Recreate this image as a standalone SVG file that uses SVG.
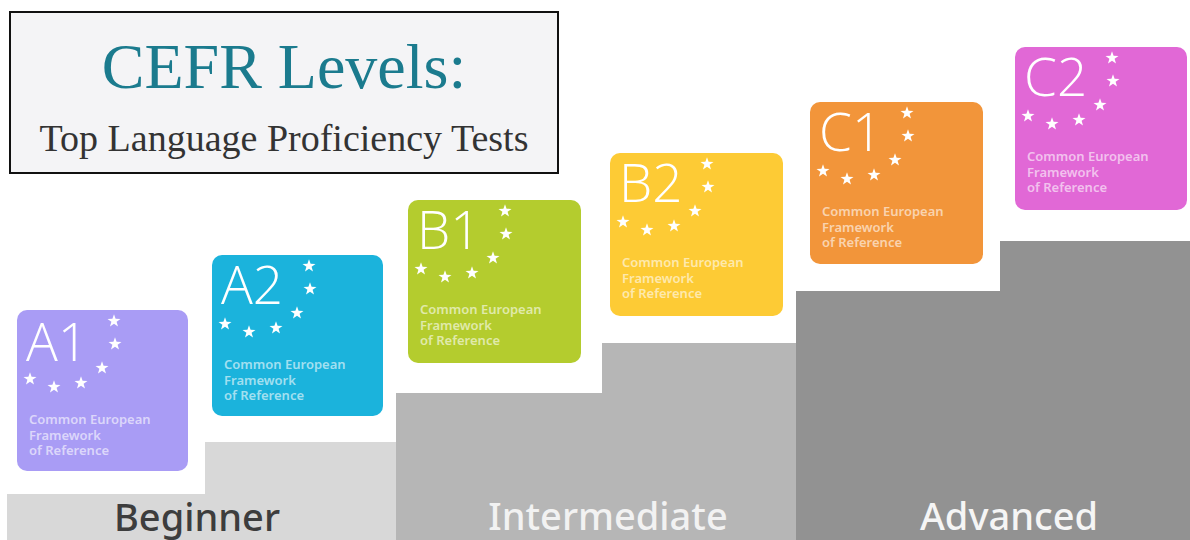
<svg xmlns="http://www.w3.org/2000/svg" xmlns:xlink="http://www.w3.org/1999/xlink" width="1190" height="540" viewBox="0 0 1190 540">
<style>
.card{stroke:none}
.lvl{font-family:"Open Sans","Noto Sans",sans-serif;font-weight:300;font-size:53px;fill:#ffffff}
.sub{font-family:"Noto Sans","Open Sans",sans-serif;font-weight:600;font-size:13px;fill:#ffffff;fill-opacity:0.6}
.stair{font-family:"Noto Sans","Open Sans",sans-serif;font-weight:500;font-size:38px;text-anchor:middle}
.star{fill:#ffffff}
</style>
<defs>
<path id="star" d="M0,-6.8 L1.6,-2.2 L6.5,-2.1 L2.6,0.84 L4.0,5.5 L0,2.7 L-4.0,5.5 L-2.6,0.84 L-6.5,-2.1 L-1.6,-2.2 Z"/>
<g id="stars" class="star">
<use xlink:href="#star" x="97" y="11"/>
<use xlink:href="#star" x="98" y="34"/>
<use xlink:href="#star" x="85" y="58"/>
<use xlink:href="#star" x="13" y="69"/>
<use xlink:href="#star" x="37" y="77"/>
<use xlink:href="#star" x="64" y="73"/>
</g>
<g id="subtext">
<text class="sub" x="12" y="114">Common European</text>
<text class="sub" x="12" y="129.5">Framework</text>
<text class="sub" x="12" y="145">of Reference</text>
</g>
</defs>
<rect width="1190" height="540" fill="#ffffff"/>

<g id="steps">
<polygon id="step-beginner" points="7,494 205,494 205,442 396,442 396,540 7,540" fill="#d8d8d8"/>
<polygon id="step-intermediate" points="396,393 602,393 602,343 796,343 796,540 396,540" fill="#b6b6b6"/>
<polygon id="step-advanced" points="796,291 1000,291 1000,241 1190,241 1190,540 796,540" fill="#929292"/>
<text class="stair" x="197" y="531" fill="#3d3d3d">Beginner</text>
<text class="stair" x="608" y="530" fill="#f2f2f2">Intermediate</text>
<text class="stair" x="1009" y="530" fill="#f5f5f5">Advanced</text>
</g>

<g id="title">
<rect x="10" y="12" width="548" height="161" fill="#f4f4f6" stroke="#111111" stroke-width="2"/>
<text x="284" y="88" text-anchor="middle" font-family="'Liberation Serif',serif" font-size="64" fill="#1b7b8e">CEFR Levels:</text>
<text x="284" y="151" text-anchor="middle" font-family="'Liberation Serif',serif" font-size="38" fill="#333333">Top Language Proficiency Tests</text>
</g>

<g id="A1" transform="translate(17,310)">
<rect class="card" width="171" height="161" rx="10" fill="#a99cf5"/>
<text class="lvl" x="9" y="51">A1</text>
<use xlink:href="#stars"/>
<use xlink:href="#subtext"/>
</g>
<g id="A2" transform="translate(212,255)">
<rect class="card" width="171" height="161" rx="10" fill="#1bb3dc"/>
<text class="lvl" x="9" y="49">A2</text>
<use xlink:href="#stars"/>
<use xlink:href="#subtext"/>
</g>
<g id="B1" transform="translate(408,200)">
<rect class="card" width="173" height="163" rx="10" fill="#b4cc2e"/>
<text class="lvl" x="9" y="49">B1</text>
<use xlink:href="#stars"/>
<use xlink:href="#subtext"/>
</g>
<g id="B2" transform="translate(610,153)">
<rect class="card" width="173" height="163" rx="10" fill="#fdcb35"/>
<text class="lvl" x="9" y="49">B2</text>
<use xlink:href="#stars"/>
<use xlink:href="#subtext"/>
</g>
<g id="C1" transform="translate(810,102)">
<rect class="card" width="173" height="162" rx="10" fill="#f2953a"/>
<text class="lvl" x="9" y="49">C1</text>
<use xlink:href="#stars"/>
<use xlink:href="#subtext"/>
</g>
<g id="C2" transform="translate(1015,47)">
<rect class="card" width="172" height="163" rx="10" fill="#e168d6"/>
<text class="lvl" x="9" y="49">C2</text>
<use xlink:href="#stars"/>
<use xlink:href="#subtext"/>
</g>
<g id="connectors"/>
</svg>
